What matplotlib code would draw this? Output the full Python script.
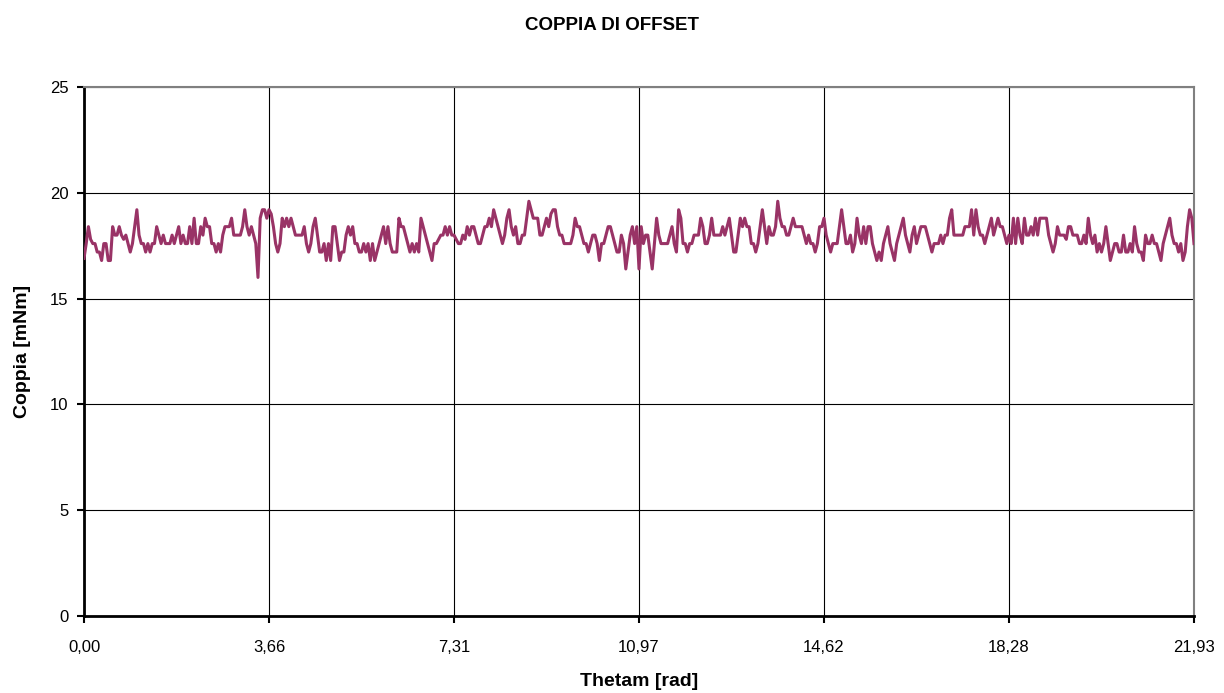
import numpy as np
import matplotlib
matplotlib.use('Agg')
import matplotlib.pyplot as plt

plt.rcParams['font.family'] = ['Liberation Sans', 'DejaVu Sans']

# coppia, a tratti (sinistra -> destra)
seg1 = [16.9, 17.6, 18.4, 17.8, 17.6, 17.6, 17.2, 17.2, 16.8, 17.6, 17.6, 16.8, 16.8, 18.4,
        18.0, 18.0, 18.4, 18.0, 17.8, 18.0, 17.6, 17.2, 17.6, 18.4, 19.2, 18.0, 17.6, 17.6,
        17.2, 17.6, 17.2, 17.6, 17.6, 18.4, 18.0, 17.6, 18.0, 17.6, 17.6]
seg2 = [17.6, 18.0, 17.6, 18.0, 18.4, 17.6, 18.0, 17.6, 17.6, 18.4, 17.6, 18.8, 17.6, 17.6,
        18.4, 18.0, 18.8, 18.4, 18.4, 17.6, 17.6, 17.2, 17.6, 17.2, 18.0, 18.4, 18.4, 18.4,
        18.8, 18.0, 18.0, 18.0, 18.0, 18.4, 19.2, 18.4, 18.0, 18.4, 18.0, 17.6, 16.0, 18.8,
        19.2]
seg3 = [19.2, 18.8, 19.2, 19.0, 18.4, 17.6, 17.2, 17.6, 18.8, 18.4, 18.8, 18.4, 18.8, 18.4,
        18.0, 18.0, 18.0, 18.0, 18.4, 17.6, 17.2, 17.6, 18.4, 18.8, 18.0, 17.2, 17.2, 17.6,
        16.8, 17.6, 16.8, 18.4, 18.4, 17.6, 16.8, 17.2, 17.2, 18.0, 18.4, 18.0, 18.4, 17.6,
        17.6, 17.2, 17.2]
seg4 = [17.6, 17.2, 17.6, 16.8, 17.6, 16.8, 17.2, 17.6, 18.0, 18.4, 17.6, 18.4, 17.6, 17.2,
        17.2, 17.2, 18.8, 18.4, 18.4, 18.0, 17.6, 17.2, 17.6, 17.2, 17.6, 17.2, 18.8, 18.4,
        18.0, 17.6, 17.2, 16.8, 17.6, 17.6, 17.8, 18.0, 18.0, 18.4, 18.0, 18.4, 18.0, 18.0,
        17.8]
seg5 = [17.6, 17.6, 18.0, 17.8, 18.4, 18.0, 18.4, 18.4, 18.0, 17.6, 17.6, 18.0, 18.4, 18.4,
        18.8, 18.4, 19.2, 18.8, 18.4, 18.0, 17.6, 18.0, 18.8, 19.2, 18.4, 18.0, 18.4, 17.6,
        17.6, 18.0, 18.0, 18.8, 19.6, 19.2, 18.8, 18.8, 18.8, 18.0, 18.0, 18.4, 18.8, 18.4,
        19.0]
seg6 = [19.2, 19.2, 18.4, 18.0, 18.0, 17.6, 17.6, 17.6, 17.6, 18.0, 18.8, 18.4, 18.4, 18.0,
        17.6, 17.6, 17.2, 17.6, 18.0, 18.0, 17.6, 16.8, 17.6, 17.6, 18.0, 18.4, 18.4, 18.0,
        17.6, 17.2, 17.2, 18.0, 17.6, 16.4, 17.2, 18.0, 18.4, 17.6, 18.4, 16.4, 18.4, 17.6,
        18.0]
seg7 = [18.0, 17.2, 16.4, 17.6, 18.8, 18.0, 17.6, 17.6, 17.6, 17.6, 18.0, 18.4, 17.6, 17.2,
        19.2, 18.8, 17.6, 17.6, 17.2, 17.6, 17.6, 18.0, 18.0, 18.0, 18.8, 18.4, 17.6, 17.6,
        18.0, 18.8, 18.0, 18.0, 18.0, 18.0, 18.4, 18.0, 18.4, 18.8, 18.0, 17.2, 17.2, 18.0,
        18.8]
seg8 = [18.4, 18.8, 18.4, 18.4, 17.6, 17.6, 17.2, 17.6, 18.4, 19.2, 18.4, 17.6, 18.4, 18.0,
        18.0, 18.4, 19.6, 18.8, 18.4, 18.4, 18.0, 18.0, 18.4, 18.8, 18.4, 18.4, 18.4, 18.4,
        18.0, 17.6, 18.0, 17.6, 17.6, 17.2, 17.6, 18.4, 18.4, 18.8, 18.0, 17.6, 17.2, 17.6]
seg9 = [17.6, 17.6, 18.4, 19.2, 18.4, 17.6, 17.6, 18.0, 17.2, 17.6, 18.8, 18.0, 17.6, 18.4,
        17.6, 18.4, 18.4, 17.6, 17.2, 16.8, 17.2, 16.8, 17.6, 18.0, 18.4, 17.6, 17.2, 16.8,
        17.6, 18.0, 18.4, 18.8, 18.0, 17.6, 17.2, 18.0, 18.4, 17.6, 18.0, 18.4, 18.4, 18.4,
        18.0]
seg10 = [17.6, 17.2, 17.6, 17.6, 17.6, 18.0, 17.6, 18.0, 18.0, 18.8, 19.2, 18.0, 18.0, 18.0,
         18.0, 18.0, 18.4, 18.4, 18.4, 19.2, 18.0, 19.2, 18.4, 18.0, 18.0, 17.6, 18.0, 18.4,
         18.8, 18.0, 18.4, 18.8, 18.4, 18.4, 18.0, 17.6, 18.0, 17.6, 18.8, 17.6, 18.8, 18.0,
         17.6, 18.8, 18.0]
seg11 = [18.0, 18.4, 18.0, 18.8, 18.0, 18.8, 18.8, 18.8, 18.8, 18.0, 17.6, 17.2, 17.6, 18.4,
         18.0, 18.0, 18.0, 17.8, 18.4, 18.4, 18.0, 18.0, 18.0, 17.6, 17.6, 18.0, 17.6, 18.8,
         18.0, 17.6, 18.0, 17.2, 17.6, 17.2, 17.6, 18.4, 17.6, 16.8, 17.2, 17.6, 17.6, 17.2,
         17.2, 18.0, 17.2, 17.2]
seg12 = [17.6, 17.2, 18.4, 17.6, 17.2, 17.2, 16.8, 18.0, 17.6, 17.6, 18.0, 17.6, 17.6, 17.2,
         16.8, 17.6, 18.0, 18.4, 18.8, 18.0, 17.6, 17.6, 17.2, 17.6, 16.8, 17.2, 18.4, 19.2,
         18.8, 17.6]

coppia = np.array(seg1 + seg2 + seg3 + seg4 + seg5 + seg6 + seg7 + seg8 + seg9 + seg10 + seg11 + seg12)
theta_max = 21.93
theta = np.linspace(0, theta_max, len(coppia))

xticks = np.linspace(0, theta_max, 7)
xlabels = ['0,00', '3,66', '7,31', '10,97', '14,62', '18,28', '21,93']
yticks = [0, 5, 10, 15, 20, 25]

fig = plt.figure(figsize=(12.24, 6.93), dpi=100)
ax = fig.add_axes([84/1224, 1-616/693, 1110/1224, 529/693])

ax.plot(theta, coppia, color='#993366', lw=2.2, zorder=3)

ax.set_xlim(0, theta_max)
ax.set_ylim(0, 25)
ax.set_xticks(xticks)
ax.set_xticklabels(xlabels, fontsize=12)
ax.set_yticks(yticks)
ax.set_yticklabels([str(v) for v in yticks], fontsize=12)
ax.grid(True, color='black', lw=0.8)
ax.tick_params(direction='out', length=5, width=1.5, pad=6)
ax.tick_params(axis='x', pad=12)

for s in ['left', 'bottom']:
    ax.spines[s].set_linewidth(2)
    ax.spines[s].set_color('black')
for s in ['top', 'right']:
    ax.spines[s].set_linewidth(1.5)
    ax.spines[s].set_color('#808080')

ax.set_xlabel('Thetam [rad]', fontsize=14, fontweight='bold', labelpad=13)
ax.set_ylabel('Coppia [mNm]', fontsize=14, fontweight='bold', labelpad=14)
fig.text(0.5, 1-25/693, 'COPPIA DI OFFSET', ha='center', va='center', fontsize=13.5, fontweight='bold')

fig.savefig('out.png', dpi=100)
